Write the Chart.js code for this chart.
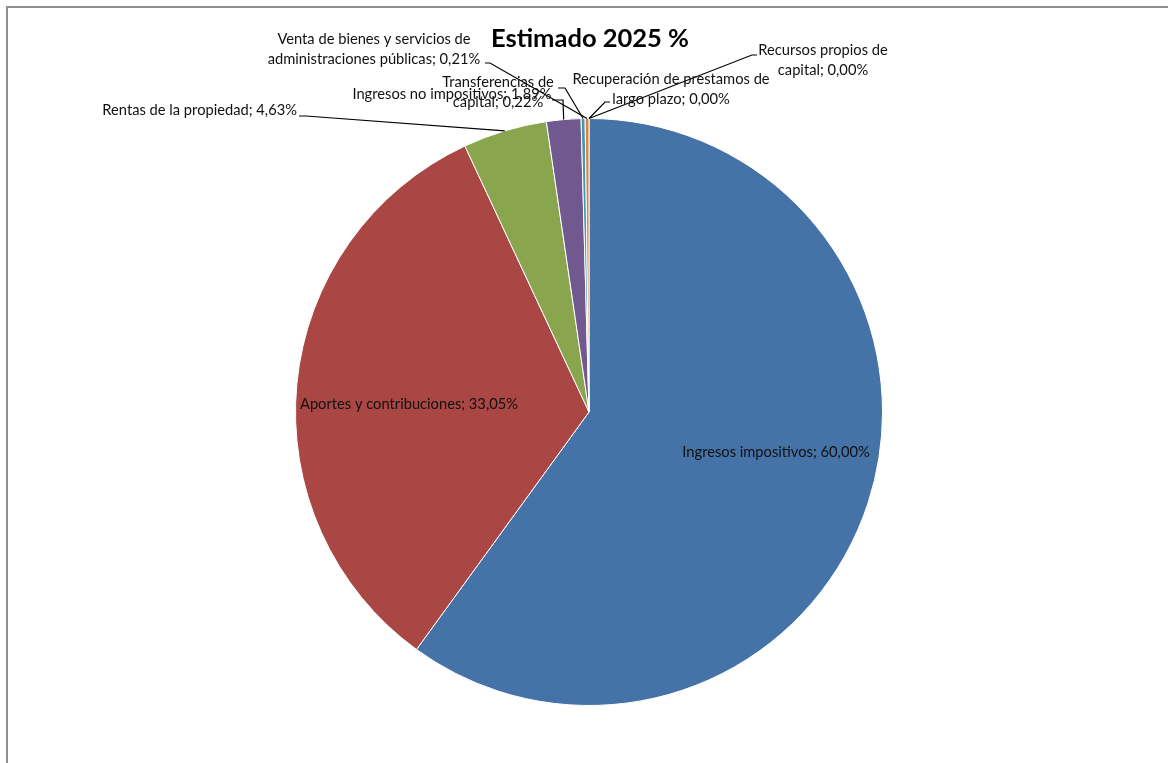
<!DOCTYPE html>
<html>
<head>
<meta charset="utf-8">
<title>Estimado 2025 %</title>
<script src="https://cdn.jsdelivr.net/npm/chart.js@4.4.1/dist/chart.umd.min.js"></script>
<style>
  html, body { margin: 0; padding: 0; background: #ffffff; }
  #wrap { width: 1168px; height: 763px; position: relative; }
</style>
</head>
<body>
<div id="wrap"><canvas id="c" width="1168" height="763"></canvas></div>
<script>
// Revenue composition, estimated 2025 (share of total, %)
const categories = [
  'Ingresos impositivos',
  'Aportes y contribuciones',
  'Rentas de la propiedad',
  'Ingresos no impositivos',
  'Transferencias de capital',
  'Venta de bienes y servicios de administraciones públicas',
  'Recuperación de prestamos de largo plazo',
  'Recursos propios de capital'
];
const shares = [60.00, 33.05, 4.63, 1.89, 0.22, 0.21, 0.00, 0.00];
const chartTitle = 'Estimado 2025 %';

const sliceColors = ['#4572A7', '#AA4643', '#89A54E', '#71588F', '#4198AF', '#DB843D', '#93A9CF', '#D19392'];

const FONT = 'Lato, "Liberation Sans", sans-serif';

// Where each data label sits: x/y = centre of its first line, wrap = words on line one,
// leader = label-side points of the connector (the slice end is taken from the arc).
const labelLayout = [
  { x: 776, y: 452, align: 'center', wrap: 0 },
  { x: 409, y: 404, align: 'center', wrap: 0 },
  { x: 297, y: 110, align: 'right',  wrap: 0, leader: [[299, 116], [306, 116]] },
  { x: 452, y: 94,  align: 'center', wrap: 0, leader: [[552, 100], [563, 100]] },
  { x: 498, y: 82,  align: 'center', wrap: 2, leader: [[558, 88], [565, 88]] },
  { x: 374, y: 39,  align: 'center', wrap: 6, leader: [[485, 63], [490, 63]] },
  { x: 671, y: 79,  align: 'center', wrap: 4, leader: [[610, 102], [605, 102]] },
  { x: 823, y: 50,  align: 'center', wrap: 3, leader: [[757, 55], [752, 55]] }
];

function fmtPct(v) {
  return v.toFixed(2).replace('.', ',') + '%';
}

function labelLines(i) {
  const text = categories[i] + '; ' + fmtPct(shares[i]);
  const n = labelLayout[i].wrap;
  if (!n) return [text];
  const words = text.split(' ');
  return [words.slice(0, n).join(' '), words.slice(n).join(' ')];
}

const pieDecor = {
  id: 'pieDecor',
  afterDraw(chart) {
    const ctx = chart.ctx;
    const meta = chart.getDatasetMeta(0);
    ctx.save();

    // outer frame (top and left edges of the chart border)
    ctx.strokeStyle = '#8f8f8f';
    ctx.lineWidth = 2;
    ctx.beginPath();
    ctx.moveTo(1168, 7);
    ctx.lineTo(7, 7);
    ctx.lineTo(7, 763);
    ctx.stroke();

    // title
    ctx.fillStyle = '#000';
    ctx.font = 'bold 25.5px ' + FONT;
    ctx.textAlign = 'center';
    ctx.textBaseline = 'middle';
    ctx.fillText(chartTitle, 590, 39);

    // leader lines
    ctx.strokeStyle = '#000';
    ctx.lineWidth = 1.2;
    meta.data.forEach((arc, i) => {
      const lay = labelLayout[i];
      if (!lay.leader) return;
      const p = arc.getProps(['x', 'y', 'startAngle', 'endAngle', 'outerRadius'], true);
      const mid = (p.startAngle + p.endAngle) / 2;
      const ax = p.x + Math.cos(mid) * p.outerRadius;
      const ay = p.y + Math.sin(mid) * p.outerRadius;
      ctx.beginPath();
      ctx.moveTo(lay.leader[0][0], lay.leader[0][1]);
      for (let k = 1; k < lay.leader.length; k++) ctx.lineTo(lay.leader[k][0], lay.leader[k][1]);
      ctx.lineTo(ax, ay);
      ctx.stroke();
    });

    // data labels
    ctx.font = '14.7px ' + FONT;
    ctx.fillStyle = '#111';
    ctx.textBaseline = 'middle';
    meta.data.forEach((arc, i) => {
      const lay = labelLayout[i];
      ctx.textAlign = lay.align;
      labelLines(i).forEach((line, k) => {
        ctx.fillText(line, lay.x, lay.y + k * 20);
      });
    });

    ctx.restore();
  }
};

new Chart(document.getElementById('c'), {
  type: 'pie',
  data: {
    labels: categories,
    datasets: [{
      data: shares,
      backgroundColor: sliceColors,
      borderColor: '#ffffff',
      borderWidth: 1
    }]
  },
  options: {
    responsive: false,
    animation: false,
    layout: { padding: { left: 295, right: 285, top: 118, bottom: 57 } },
    plugins: {
      legend: { display: false },
      tooltip: { enabled: false },
      title: { display: false }
    }
  },
  plugins: [pieDecor]
});
</script>
</body>
</html>
